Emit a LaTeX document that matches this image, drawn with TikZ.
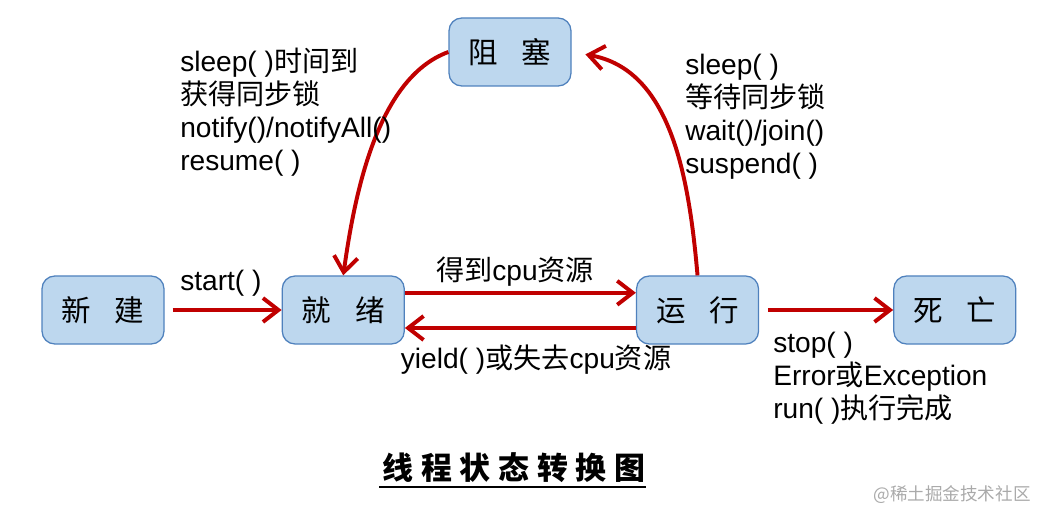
\documentclass[tikz,border=0pt]{standalone}
\usepackage{fontspec}
\setmainfont{Liberation Sans}
\newfontfamily\cjk{Noto Sans CJK SC}
\newfontfamily\cjktitle{Noto Sans CJK SC}[LetterSpace=25]
\definecolor{stateFill}{HTML}{BDD7EE}
\definecolor{stateEdge}{HTML}{4F81BD}
\definecolor{stateRed}{HTML}{C00000}
\definecolor{markGray}{HTML}{AAAAAA}
\usetikzlibrary{arrows.meta, positioning}

\begin{document}
\begin{tikzpicture}[
    box/.style={
      rounded corners=0.32cm,
      draw=stateEdge,
      fill=stateFill,
      line width=0.9pt,
      minimum width=3.05cm,
      minimum height=1.7cm,
      font=\cjk\fontsize{21}{24}\selectfont,
    },
    arr/.style={-{Straight Barb[length=11pt,width=17pt]}, stateRed, line width=2.8pt},
    lbl/.style={inner sep=0pt, align=left, font=\fontsize{20}{23.5}\selectfont},
  ]
  \useasboundingbox (0,0) rectangle (26,-12.85);

  \node[box] (block) at (12.75,-1.3) {阻\hspace{0.8em}塞};
  \node[box] (new) at (2.575,-7.75) {新\hspace{0.8em}建};
  \node[box, right=2.925cm of new] (ready) {就\hspace{0.8em}绪};
  \node[box, right=5.775cm of ready] (run) {运\hspace{0.8em}行};
  \node[box, right=3.35cm of run] (die) {死\hspace{0.8em}亡};

  \draw[arr, shorten <=0.2cm] (new) -- (ready);
  \draw[arr] ([yshift=0.43cm]ready.east) -- ([yshift=0.43cm]run.west);
  \draw[arr] ([yshift=-0.45cm]run.west) -- ([yshift=-0.45cm]ready.east);
  \draw[arr, shorten <=0.22cm] (run) -- (die);
  \draw[arr] (block.west) to[out=200, in=82, looseness=0.8] (ready.north);
  \draw[arr, shorten >=0.35cm] (run.north) to[out=95, in=-10] (block.east);

  \node[lbl, anchor=west] (startlbl) at (4.5,-7.08) {start( )};
  \node[lbl] (getcpu) at (12.875,-6.8) {{\cjk 得到}cpu{\cjk 资源}};
  \node[lbl] (yieldlbl) at (13.4,-9.0) {yield( ){\cjk 或失去}cpu{\cjk 资源}};
  \node[lbl, anchor=west] (wakelbl) at (4.5,-2.8)
    {sleep( ){\cjk 时间到}\\{\cjk 获得同步锁}\\notify()/notifyAll()\\resume( )};
  \node[lbl, anchor=west] (blocklbl) at (17.125,-2.91)
    {sleep( )\\{\cjk 等待同步锁}\\wait()/join()\\suspend( )};
  \node[lbl, anchor=west] (stoplbl) at (19.325,-9.46)
    {stop( )\\Error{\cjk 或}Exception\\run( ){\cjk 执行完成}};

  % title with underline
  \node[inner sep=0pt, font=\cjktitle\bfseries\fontsize{22}{24}\selectfont] (title) at (12.85,-11.7) {线程状态转换图};
  \draw[line width=1.4pt] ([xshift=-2pt, yshift=-2.5pt]title.south west) -- ([yshift=-2.5pt]title.south east);

  \node[text=markGray, font=\cjk\fontsize{12.5}{14}\selectfont] (mark) at (23.8,-12.375) {@稀土掘金技术社区};
\end{tikzpicture}
\end{document}
